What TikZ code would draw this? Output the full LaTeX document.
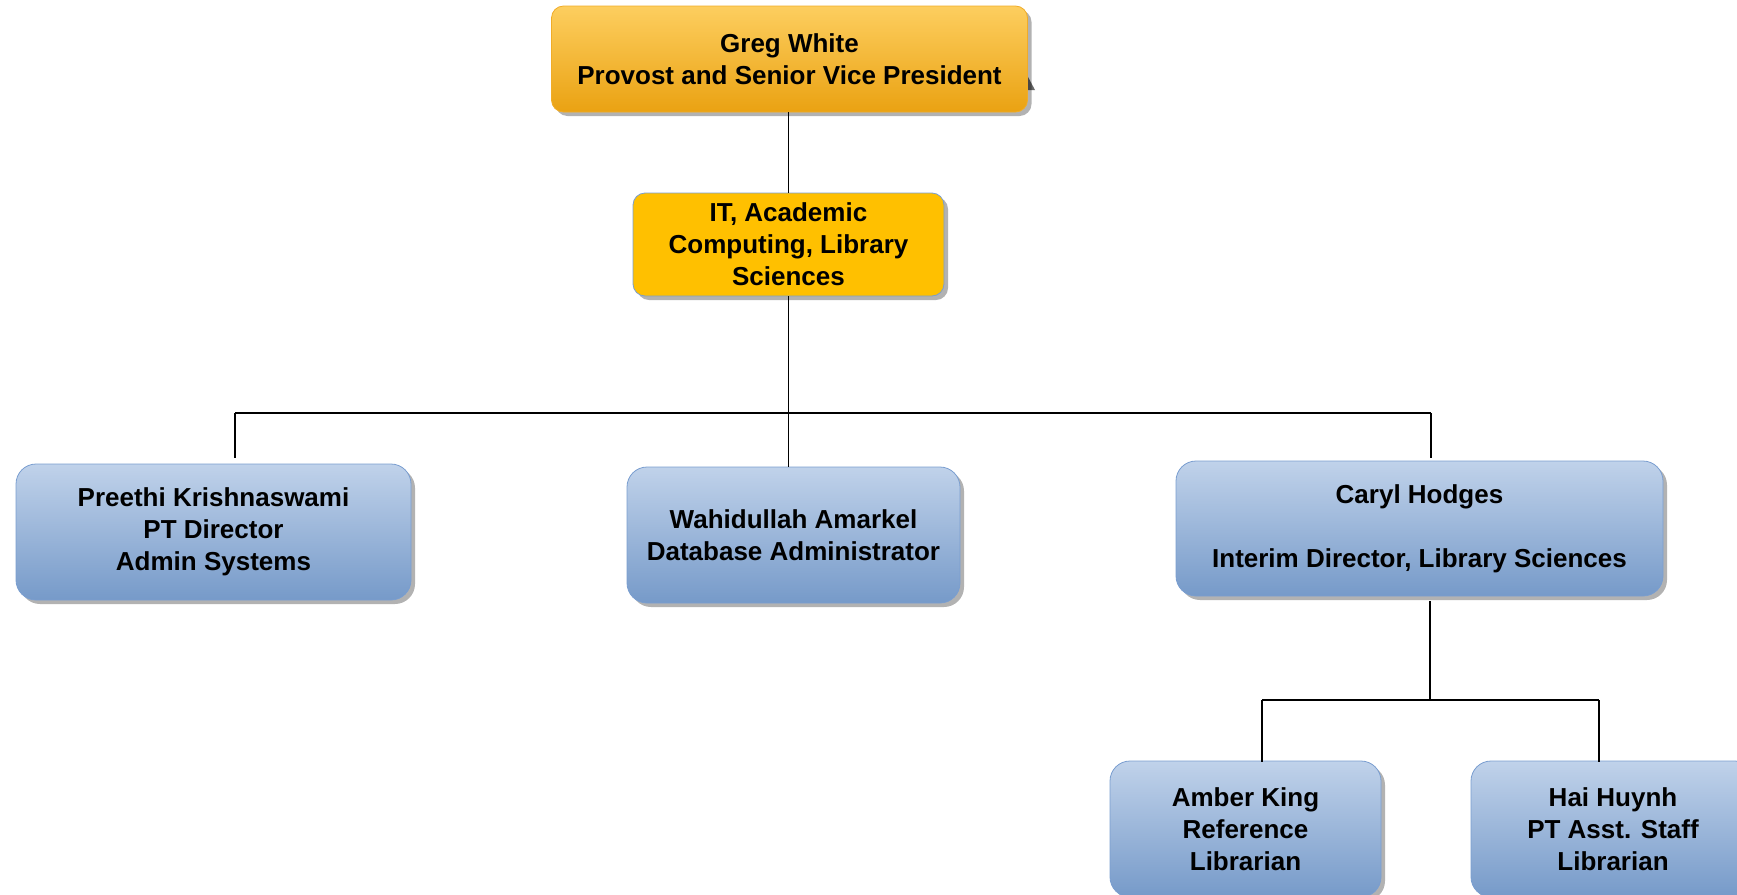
\documentclass[tikz,border=0pt]{standalone}
\usepackage{fontspec}
\setmainfont{Liberation Sans}
\usepackage{xcolor}
\usepackage{tikz}
\usetikzlibrary{shadows}
\definecolor{provtop}{RGB}{253,206,95}
\definecolor{provbot}{RGB}{234,162,18}
\definecolor{provline}{RGB}{240,172,40}
\definecolor{deptfill}{RGB}{255,192,0}
\definecolor{bluetop}{RGB}{192,210,234}
\definecolor{bluebot}{RGB}{118,154,201}
\definecolor{blueline}{RGB}{122,158,208}

\begin{document}
\begin{tikzpicture}
[x=0.5pt,y=-0.5pt,
txt/.style={align=center,font=\fontsize{13}{16}\selectfont\bfseries,inner sep=0pt},
shad/.style={drop shadow={shadow xshift=2pt,shadow yshift=-2pt,fill=black,opacity=0.3}},
prov/.style={txt,shad,rectangle,rounded corners=6pt,draw=provline,thin,top color=provtop,bottom color=provbot},
dept/.style={txt,shad,rectangle,rounded corners=6pt,draw=blueline,thin,fill=deptfill},
staff/.style={txt,shad,rectangle,rounded corners=10pt,draw=blueline,thin,top color=bluetop,bottom color=bluebot,minimum height=68pt},
conn/.style={draw=black,line width=0.7pt}]
\useasboundingbox (0,0) rectangle (1737,895);
% the small grey mark at the right of the top box
\fill[black!60] (1027,75) -- (1035,90) -- (1027,90) -- cycle;
\node at (789.5,59) [prov,minimum width=238pt,minimum height=53pt] (greg) {Greg White\\Provost and Senior Vice President};
\node at (788.5,244.5) [dept,minimum width=155.5pt,minimum height=51.5pt] (acad) {IT, Academic\\Computing, Library\\Sciences};
\node at (213.5,532) [staff,minimum width=197.5pt] (preethi) {Preethi Krishnaswami\\PT Director\\Admin Systems};
\node at (793.5,535) [staff,minimum width=166.5pt] (wahid) {Wahidullah Amarkel\\Database Administrator};
\node at (1419.5,528.5) [staff,minimum width=243.5pt,minimum height=67.5pt] (caryl) {Caryl Hodges\\[16pt]Interim Director, Library Sciences};
\node at (1245.5,829) [staff,minimum width=135.5pt] (amber) {Amber King\\Reference\\Librarian};
\node at (1613,829) [staff,minimum width=142pt] (hai) {Hai Huynh\\PT Asst. Staff\\Librarian};
% bus lines
\coordinate (busl) at (235,413);
\coordinate (busr) at (1431,413);
\coordinate (pstub) at (235,458);
\coordinate (cstub) at (1431,458);
\coordinate (cdown) at (1430,601);
\coordinate (bustwol) at (1262,700);
\coordinate (bustwor) at (1599,700);
\coordinate (astub) at (1262,762);
\coordinate (hstub) at (1599,762);
\draw[conn] (acad.north) -- (acad.north |- greg.south);
\draw[conn] (acad.south) -- (acad.south |- wahid.north);
\draw[conn] (busl) -- (busr);
\draw[conn] (busl) -- (pstub);
\draw[conn] (busr) -- (cstub);
\draw[conn] (cdown) -- (cdown |- bustwol);
\draw[conn] (bustwol) -- (bustwor);
\draw[conn] (bustwol) -- (astub);
\draw[conn] (bustwor) -- (hstub);
\end{tikzpicture}
\end{document}
